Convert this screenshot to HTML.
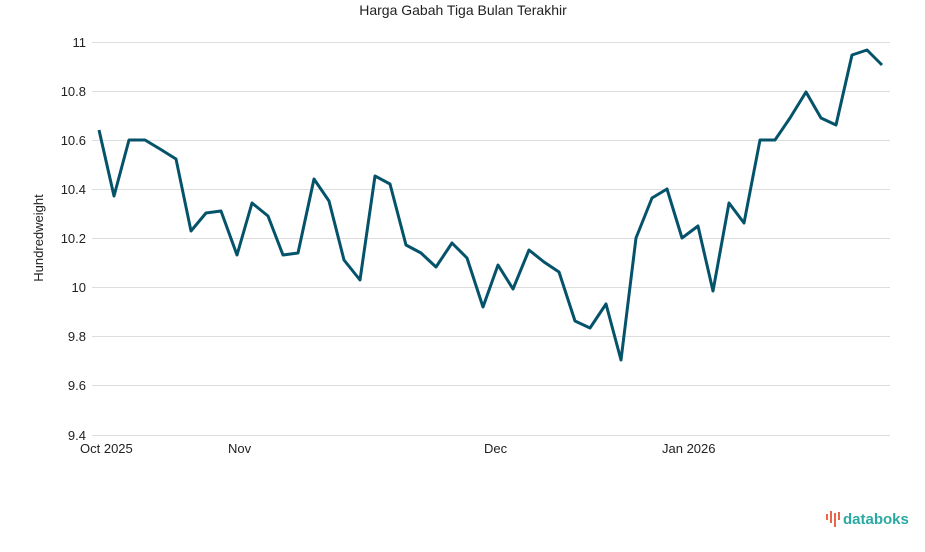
<!DOCTYPE html>
<html><head><meta charset="utf-8"><style>
body{margin:0;background:#fff;width:925px;height:547px;overflow:hidden;font-family:"Liberation Sans",sans-serif;}
</style></head><body>
<svg width="925" height="547" xmlns="http://www.w3.org/2000/svg" font-family="Liberation Sans, sans-serif">
<text x="463" y="15" text-anchor="middle" font-size="14" fill="#222">Harga Gabah Tiga Bulan Terakhir</text>
<g stroke="#ddd" stroke-width="1">
<line x1="92" x2="890" y1="42.5" y2="42.5"/><line x1="92" x2="890" y1="91.5" y2="91.5"/>
<line x1="92" x2="890" y1="140.5" y2="140.5"/><line x1="92" x2="890" y1="189.5" y2="189.5"/>
<line x1="92" x2="890" y1="238.5" y2="238.5"/><line x1="92" x2="890" y1="287.5" y2="287.5"/>
<line x1="92" x2="890" y1="336.5" y2="336.5"/><line x1="92" x2="890" y1="385.5" y2="385.5"/>
<line x1="92" x2="890" y1="435.5" y2="435.5"/>
</g>
<g font-size="13" fill="#222" text-anchor="end">
<text x="86" y="47">11</text><text x="86" y="96">10.8</text><text x="86" y="145">10.6</text>
<text x="86" y="194">10.4</text><text x="86" y="243">10.2</text><text x="86" y="292">10</text>
<text x="86" y="341">9.8</text><text x="86" y="390">9.6</text><text x="86" y="440">9.4</text>
</g>
<text transform="translate(43,238) rotate(-90)" text-anchor="middle" font-size="13" fill="#222">Hundredweight</text>
<g font-size="13" fill="#222">
<text x="80" y="453">Oct 2025</text><text x="228" y="453">Nov</text>
<text x="484" y="453">Dec</text><text x="662" y="453">Jan 2026</text>
</g>
<polyline fill="none" stroke="#04536b" stroke-width="3" stroke-linejoin="round" points="99,130 114,196 129,140 145,140 160,149 176,159 191,231 206,213 221,211 237,255 252,203 268,216 283,255 298,253 314,179 329,201 344,260 360,280 375,176 390,184 406,245 421,253 436,267 452,243 467,258 483,307 498,265 513,289 529,250 544,262 559,272 575,321 590,328 606,304 621,360 636,238 652,198 667,189 682,238 698,226 713,291 729,203 744,223 760,140 775,140 790,118 806,92 821,118 836,125 852,55 867,50 882,65"/>
<g fill="#e8674a">
<rect x="826" y="514" width="2" height="6"/><rect x="830" y="511" width="2" height="12"/><rect x="834" y="513" width="2" height="14"/><rect x="838" y="512" width="2" height="8"/>
</g>
<text x="843" y="524" font-size="15" font-weight="bold" fill="#2aa9a3">databoks</text>
</svg>
</body></html>
